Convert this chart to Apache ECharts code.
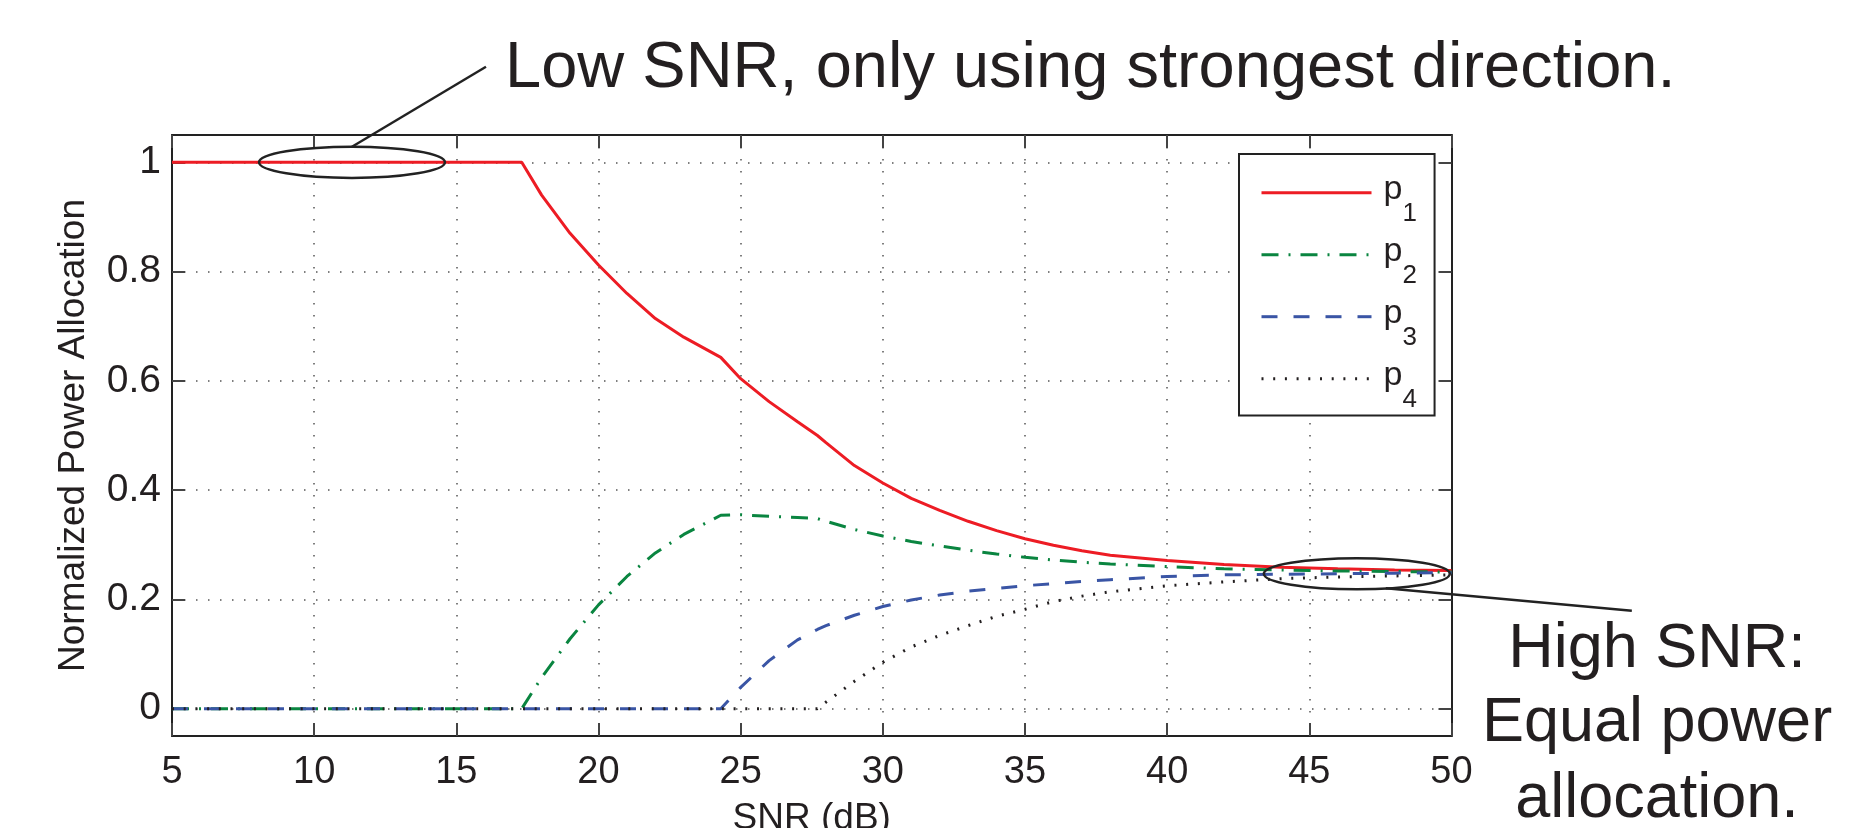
<!DOCTYPE html>
<html>
<head>
<meta charset="utf-8">
<script src="https://cdn.jsdelivr.net/npm/echarts@6/dist/echarts.min.js"></script>
<style>
  html, body { margin: 0; padding: 0; background: #fff; }
  #chart { width: 1852px; height: 828px; }
</style>
</head>
<body>
<div id="chart"></div>
<script>
// ---- data ----
const snr = [5, 17.3, 18, 19, 20, 21, 22, 23, 24.3, 25, 26, 27, 27.7, 28, 29, 30, 31, 32, 33, 34, 35, 36, 37, 38, 40, 42, 44, 46, 48, 50];
const p1 = [1, 1, 0.94, 0.87, 0.812, 0.76, 0.714, 0.68, 0.643, 0.604, 0.562, 0.525, 0.5, 0.487, 0.445, 0.413, 0.385, 0.363, 0.343, 0.326, 0.311, 0.299, 0.289, 0.281, 0.271, 0.264, 0.259, 0.256, 0.254, 0.253];
const p2 = [0, 0, 0.057, 0.128, 0.19, 0.242, 0.285, 0.319, 0.354, 0.355, 0.352, 0.35, 0.348, 0.343, 0.328, 0.316, 0.306, 0.298, 0.29, 0.283, 0.277, 0.272, 0.268, 0.265, 0.26, 0.256, 0.254, 0.252, 0.251, 0.25];
const p3 = [0, 0, 0, 0, 0, 0, 0, 0, 0, 0.039, 0.088, 0.126, 0.145, 0.152, 0.171, 0.187, 0.199, 0.208, 0.215, 0.22, 0.225, 0.229, 0.233, 0.236, 0.242, 0.245, 0.246, 0.247, 0.248, 0.249];
const p4 = [0, 0, 0, 0, 0, 0, 0, 0, 0, 0, 0, 0, 0, 0.012, 0.05, 0.085, 0.113, 0.134, 0.152, 0.169, 0.182, 0.196, 0.206, 0.214, 0.225, 0.232, 0.238, 0.241, 0.243, 0.245];
const seriesNames = ['p1', 'p2', 'p3', 'p4'];
const xTicks = [5, 10, 15, 20, 25, 30, 35, 40, 45, 50];
const yTicks = [0, 0.2, 0.4, 0.6, 0.8, 1];
const xLabel = 'SNR (dB)';
const yLabel = 'Normalized Power Allocation';
const noteLow = 'Low SNR, only using strongest direction.';
const noteHigh = ['High SNR:', 'Equal power', 'allocation.'];
// annotation ellipse centres in data coordinates
const lowSpot = [11.33, 1.0];
const highSpot = [46.67, 0.247];

const FONT = '"Liberation Sans", Arial, Helvetica, sans-serif';
const INK = '#231f20';

const chart = echarts.init(document.getElementById('chart'), null, { renderer: 'canvas' });

const gridDots = { color: '#555', width: 1.5, type: [1.5, 10.5] };
const frameLine = { color: '#222', width: 2 };
const tickStyle = { color: '#444', width: 2 };

function mk(name, ys, color, type, z) {
  return {
    name: name, type: 'line', symbol: 'none', showSymbol: false, z: z,
    data: snr.map((x, i) => [x, ys[i]]),
    lineStyle: { color: color, width: 3, type: type },
    itemStyle: { color: color },
    emphasis: { disabled: true },
    animation: false
  };
}

chart.setOption({
  animation: false,
  backgroundColor: '#fff',
  textStyle: { fontFamily: FONT, color: INK },
  grid: { left: 172, right: 400.5, top: 135, bottom: 92, containLabel: false, outerBoundsMode: 'none' },
  xAxis: [{
    type: 'value', min: 5, max: 50, position: 'bottom',
    name: xLabel, nameLocation: 'middle', nameGap: 64,
    nameTextStyle: { fontSize: 37, lineHeight: 37, color: INK, fontFamily: FONT },
    axisLine: { onZero: false, lineStyle: frameLine },
    axisTick: { inside: true, length: 13, lineStyle: tickStyle, customValues: xTicks },
    axisLabel: { fontSize: 38, lineHeight: 38, margin: 18, color: INK, fontFamily: FONT, customValues: xTicks },
    splitLine: { show: true, lineStyle: gridDots }
  }, {
    type: 'value', min: 5, max: 50, position: 'top',
    axisLine: { onZero: false, lineStyle: frameLine },
    axisTick: { inside: true, length: 13, lineStyle: tickStyle, customValues: xTicks },
    axisLabel: { show: false },
    splitLine: { show: false }
  }],
  yAxis: [{
    type: 'value', min: -0.05, max: 1.05, position: 'left',
    name: yLabel, nameLocation: 'middle', nameGap: 80, nameRotate: 90,
    nameTextStyle: { fontSize: 37, lineHeight: 37, color: INK, fontFamily: FONT },
    axisLine: { show: true, onZero: false, lineStyle: frameLine },
    axisTick: { show: true, inside: true, length: 13, lineStyle: tickStyle, customValues: yTicks },
    axisLabel: { fontSize: 39, margin: 11, color: INK, fontFamily: FONT, customValues: yTicks,
      formatter: v => String(v) },
    splitLine: { show: true, lineStyle: gridDots }
  }, {
    type: 'value', min: -0.05, max: 1.05, position: 'right',
    axisLine: { show: true, onZero: false, lineStyle: frameLine },
    axisTick: { show: true, inside: true, length: 13, lineStyle: tickStyle, customValues: yTicks },
    axisLabel: { show: false },
    splitLine: { show: false }
  }],
  legend: {
    data: seriesNames,
    orient: 'vertical',
    left: 1239, top: 154,
    itemWidth: 110, itemHeight: 14, itemGap: 8,
    padding: [18.7, 17.7, 2.7, 21],
    borderColor: '#222', borderWidth: 2, backgroundColor: '#fff',
    selectedMode: false,
    itemStyle: { color: 'rgba(0,0,0,0)', borderWidth: 0, opacity: 0 },
    lineStyle: { width: 3 },
    formatter: n => '{p|' + n.charAt(0) + '}{s|' + n.slice(1) + '}',
    textStyle: {
      color: INK, fontFamily: FONT,
      rich: {
        p: { fontSize: 34, lineHeight: 40, verticalAlign: 'top', padding: [0, 0, 0, 7], color: INK, fontFamily: FONT },
        s: { fontSize: 26, lineHeight: 26, verticalAlign: 'top', padding: [28, 0, 0, 0], color: INK, fontFamily: FONT }
      }
    }
  },
  series: [
    mk('p1', p1, '#ed1c24', 'solid', 4),
    mk('p2', p2, '#0a8540', [17, 10, 2, 10], 5),
    mk('p3', p3, '#3a55a5', [16, 16], 6),
    mk('p4', p4, '#231f20', [2, 9.7], 7)
  ]
});

// annotations placed relative to the data positions
const lo = chart.convertToPixel({ xAxisIndex: 0, yAxisIndex: 0 }, lowSpot);
const hi = chart.convertToPixel({ xAxisIndex: 0, yAxisIndex: 0 }, highSpot);
const rx = 93, ry = 15.6;
const ink = { stroke: '#222', lineWidth: 2.5, fill: null };
chart.setOption({
  graphic: [
    { type: 'ellipse', z: 100, shape: { cx: lo[0], cy: lo[1], rx: rx, ry: ry }, style: Object.assign({}, ink) },
    { type: 'line', z: 100, shape: { x1: lo[0], y1: lo[1] - ry, x2: lo[0] + 134, y2: lo[1] - ry - 80 }, style: Object.assign({}, ink) },
    { type: 'text', z: 100, style: { text: noteLow, x: 505, y: 69, fontSize: 65, fontFamily: FONT, fill: INK, align: 'left', verticalAlign: 'middle' } },
    { type: 'ellipse', z: 100, shape: { cx: hi[0], cy: hi[1], rx: rx, ry: ry }, style: Object.assign({}, ink) },
    { type: 'line', z: 100, shape: { x1: hi[0] + 29, y1: hi[1] + ry - 1, x2: hi[0] + 275, y2: hi[1] + 37 }, style: Object.assign({}, ink) },
    { type: 'text', z: 100, style: { text: noteHigh[0], x: 1657, y: 650, fontSize: 63, fontFamily: FONT, fill: INK, align: 'center', verticalAlign: 'middle' } },
    { type: 'text', z: 100, style: { text: noteHigh[1], x: 1657, y: 724, fontSize: 63, fontFamily: FONT, fill: INK, align: 'center', verticalAlign: 'middle' } },
    { type: 'text', z: 100, style: { text: noteHigh[2], x: 1657, y: 800, fontSize: 63, fontFamily: FONT, fill: INK, align: 'center', verticalAlign: 'middle' } }
  ]
});
</script>
</body>
</html>
